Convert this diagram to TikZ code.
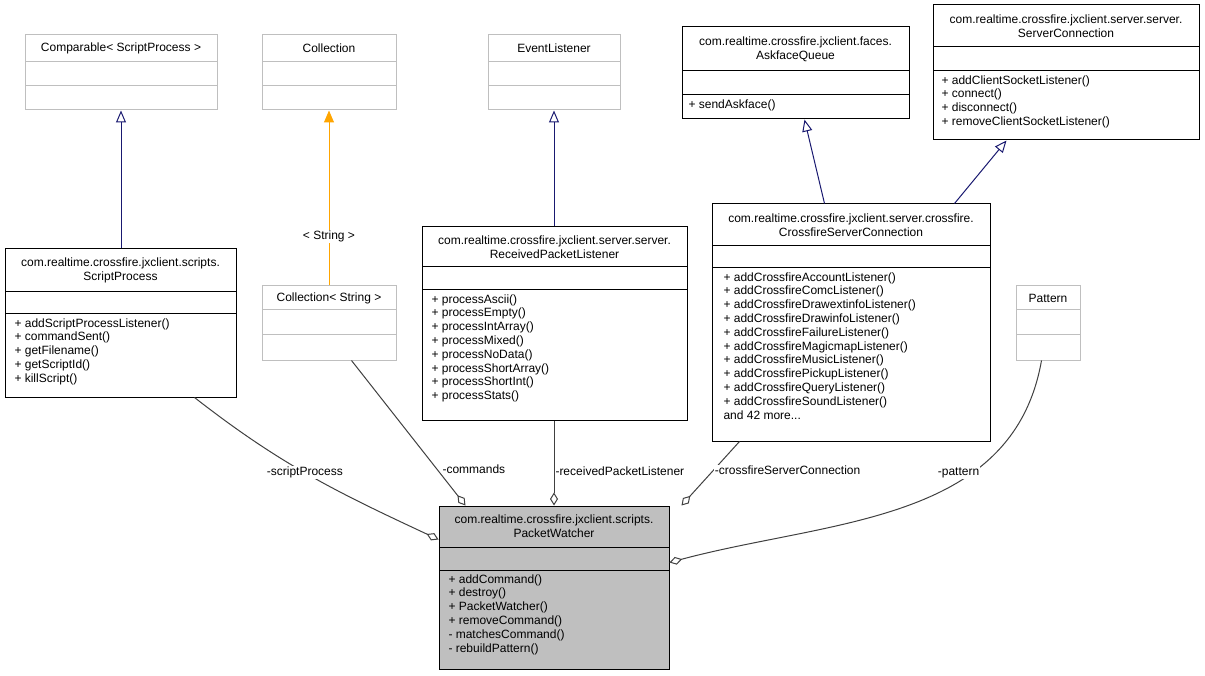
\documentclass[tikz,border=0pt]{standalone}
\usepackage{fontspec}
\setmainfont{Liberation Sans}
\usetikzlibrary{arrows.meta, calc}

\definecolor{navy}{HTML}{191970}
\definecolor{inheritorange}{HTML}{FFA500}
\definecolor{boxgray}{HTML}{BFBFBF}
\definecolor{edgegray}{HTML}{404040}

% name, x1, y1, x2, y2, line a, line b, style, title
\newcommand{\classbox}[9]{%
  \path[#8] (#2,#3) rectangle (#4,#5);
  \draw[#8, fill=none] (#2,#6) -- (#4,#6) (#2,#7) -- (#4,#7);
  \node[inner sep=0, minimum width=#4pt-#2pt, minimum height=#5pt-#3pt] (#1) at ({(#2+#4)/2},{(#3+#5)/2}) {};
  \node[title] at ({(#2+#4)/2},{(#3+#6)/2}) {#9};
}

\begin{document}
\begin{tikzpicture}[x=1pt, y=-1pt, font=\fontsize{12}{14}\selectfont,
                    line width=1pt, every node/.style = {text=black}]

\tikzstyle{real} = [draw=black, fill=white]
\tikzstyle{external} = [draw=boxgray, fill=white]
\tikzstyle{focus} = [draw=black, fill=boxgray]
\tikzstyle{title} = [align=center, inner sep=0]
\tikzstyle{methods} = [align=left, anchor=north west, inner sep=0, font=\fontsize{12}{13.8}\selectfont]
\tikzstyle{inherit} = [draw=navy, -{Triangle[open, length=12pt, width=10pt]}]
\tikzstyle{aggregate} = [draw=edgegray, -{Diamond[open, length=13pt, width=8pt]}]
\tikzstyle{elabel} = [fill=white, inner sep=1pt]

\useasboundingbox (0,0) rectangle (1205,676);

\classbox{cmp}{25}{35}{217}{110}{62}{86}{external}{Comparable< ScriptProcess >}
\classbox{coll}{262}{35}{396}{110}{62}{86}{external}{Collection}
\classbox{evl}{488}{35}{620}{110}{62}{86}{external}{EventListener}
\classbox{afq}{682}{27}{909}{119}{71}{95}{real}{com.realtime.crossfire.jxclient.faces.\\AskfaceQueue}
\node[methods] at (688,99) {+ sendAskface()};
\classbox{sc}{933}{5}{1199}{140}{47}{71}{real}{com.realtime.crossfire.jxclient.server.server.\\ServerConnection}
\node[methods] at (941,75) {+ addClientSocketListener()\\+ connect()\\+ disconnect()\\+ removeClientSocketListener()};

\classbox{sp}{5}{249}{236}{397}{292}{314}{real}{com.realtime.crossfire.jxclient.scripts.\\ScriptProcess}
\node[methods] at (14,318) {+ addScriptProcessListener()\\+ commandSent()\\+ getFilename()\\+ getScriptId()\\+ killScript()};
\classbox{cols}{262}{286}{396}{360}{310}{335}{external}{Collection< String >}
\classbox{rpl}{422}{227}{687}{420}{267}{290}{real}{com.realtime.crossfire.jxclient.server.server.\\ReceivedPacketListener}
\node[methods] at (431,294) {+ processAscii()\\+ processEmpty()\\+ processIntArray()\\+ processMixed()\\+ processNoData()\\+ processShortArray()\\+ processShortInt()\\+ processStats()};
\classbox{csc}{712}{204}{990}{441}{246}{268}{real}{com.realtime.crossfire.jxclient.server.crossfire.\\CrossfireServerConnection}
\node[methods] at (723,272) {+ addCrossfireAccountListener()\\+ addCrossfireComcListener()\\+ addCrossfireDrawextinfoListener()\\+ addCrossfireDrawinfoListener()\\+ addCrossfireFailureListener()\\+ addCrossfireMagicmapListener()\\+ addCrossfireMusicListener()\\+ addCrossfirePickupListener()\\+ addCrossfireQueryListener()\\+ addCrossfireSoundListener()\\and 42 more...};
\classbox{pat}{1016}{286}{1080}{360}{310}{335}{external}{Pattern}

\classbox{pw}{439}{506}{669}{669}{547}{570}{focus}{com.realtime.crossfire.jxclient.scripts.\\PacketWatcher}
\node[methods] at (448,574) {+ addCommand()\\+ destroy()\\+ PacketWatcher()\\+ removeCommand()\\- matchesCommand()\\- rebuildPattern()};

% inheritance
\draw[inherit] (sp.north -| cmp.south) -- (cmp.south);
\draw[inherit, draw=inheritorange, -{Triangle[length=12pt, width=10pt]}] (cols.north) -- node[elabel, pos=0.28] {< String >} (coll.south);
\draw[inherit] (rpl.north -| evl.south) -- (evl.south);
\draw[inherit] ($(csc.north west)+(113,0)$) -- ($(afq.south west)+(123,0)$);
\draw[inherit] ($(csc.north west)+(243,0)$) -- ($(sc.south west)+(74,0)$);

% aggregation
\draw[aggregate] ($(sp.south west)+(190,0)$) to[out=-38, in=155] node[elabel, pos=0.47] {-scriptProcess} ($(pw.north west)+(0,34)$);
\draw[aggregate] ($(cols.south west)+(90,0)$) to node[elabel, pos=0.75, right=4pt] {-commands} ($(pw.north west)+(27,0)$);
\draw[aggregate] (rpl.south -| pw.north) -- node[elabel, pos=0.6, anchor=west] {-receivedPacketListener} (pw.north);
\draw[aggregate] ($(csc.south west)+(28,0)$) -- node[elabel, pos=0.45, anchor=west] {-crossfireServerConnection} ($(pw.north east)+(12,0)$);
\draw[aggregate] ($(pat.south west)+(26,0)$) to[out=-100, in=15] node[elabel, pos=0.3, below left=-2pt] {-pattern} ($(pw.north east)+(0,57)$);

\end{tikzpicture}
\end{document}
